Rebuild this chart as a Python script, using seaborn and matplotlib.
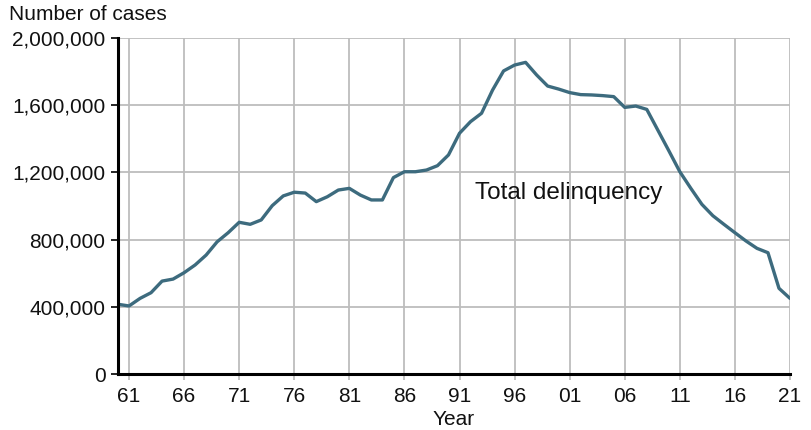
import matplotlib
matplotlib.use("Agg")
import matplotlib.pyplot as plt
import seaborn as sns
import pandas as pd
from matplotlib.ticker import FuncFormatter

years = list(range(1960, 2022))
cases = [415000, 405000, 450000, 484000, 553000, 565000, 603000, 649000, 708000, 787000,
         841000, 903000, 891000, 917000, 1002000, 1060000, 1082000, 1077000, 1026000, 1055000,
         1095000, 1105000, 1065000, 1036000, 1036000, 1169000, 1204000, 1204000, 1214000, 1240000,
         1304000, 1433000, 1502000, 1552000, 1690000, 1804000, 1839000, 1855000, 1780000, 1714000,
         1696000, 1675000, 1663000, 1661000, 1657000, 1651000, 1587000, 1595000, 1575000, 1452000,
         1329000, 1204000, 1105000, 1010000, 942000, 891000, 841000, 792000, 748000, 722000,
         510000, 450000]
xtick_years = list(range(1961, 2022, 5))
xtick_labels = [f"{y % 100:02d}" for y in xtick_years]
yticks = [0, 400000, 800000, 1200000, 1600000, 2000000]
series_label = "Total delinquency"

df = pd.DataFrame({"Year": years, "Cases": cases})

sns.set_theme(style="white")
plt.rcParams['font.family'] = ['Liberation Sans', 'DejaVu Sans']

fig = plt.figure(figsize=(8.12, 4.30), dpi=100)
ax = fig.add_axes([118/812, 1-374/430, (790-118)/812, (374-38)/430])

sns.lineplot(data=df, x="Year", y="Cases", ax=ax, color="#3d6b7e", linewidth=2.4)

ax.set_xlim(1960, 2021)
ax.set_ylim(0, 2000000)
ax.set_xticks(xtick_years)
ax.set_xticklabels(xtick_labels)
ax.set_yticks(yticks)
ax.yaxis.set_major_formatter(FuncFormatter(lambda v, p: f"{int(v):,}"))
ax.grid(True, color="#bdbdbd", linewidth=1.3)
ax.set_axisbelow(True)

for s in ["top", "right"]:
    ax.spines[s].set_visible(False)
ax.spines["left"].set_color("black")
ax.spines["left"].set_linewidth(2.2)
ax.spines["bottom"].set_color("black")
ax.spines["bottom"].set_linewidth(2.2)

ax.tick_params(axis="y", which="major", left=True, length=5, width=1.2, color="black",
               labelsize=15, pad=4, labelcolor="#111111")
ax.tick_params(axis="x", which="major", bottom=True, length=4, width=1.3, color="#bdbdbd",
               labelsize=15, pad=5, labelcolor="#111111")

ax.set_xlabel("Year", fontsize=15, labelpad=3, color="#111111")
ax.set_ylabel("")
fig.text(9/812, 1-15/430, "Number of cases", fontsize=15, va="center", ha="left", color="#111111")

ax.text(1992.4, 1075000, series_label, fontsize=17.5, va="center", ha="left", color="#111111")

fig.savefig("out.png", dpi=100)
